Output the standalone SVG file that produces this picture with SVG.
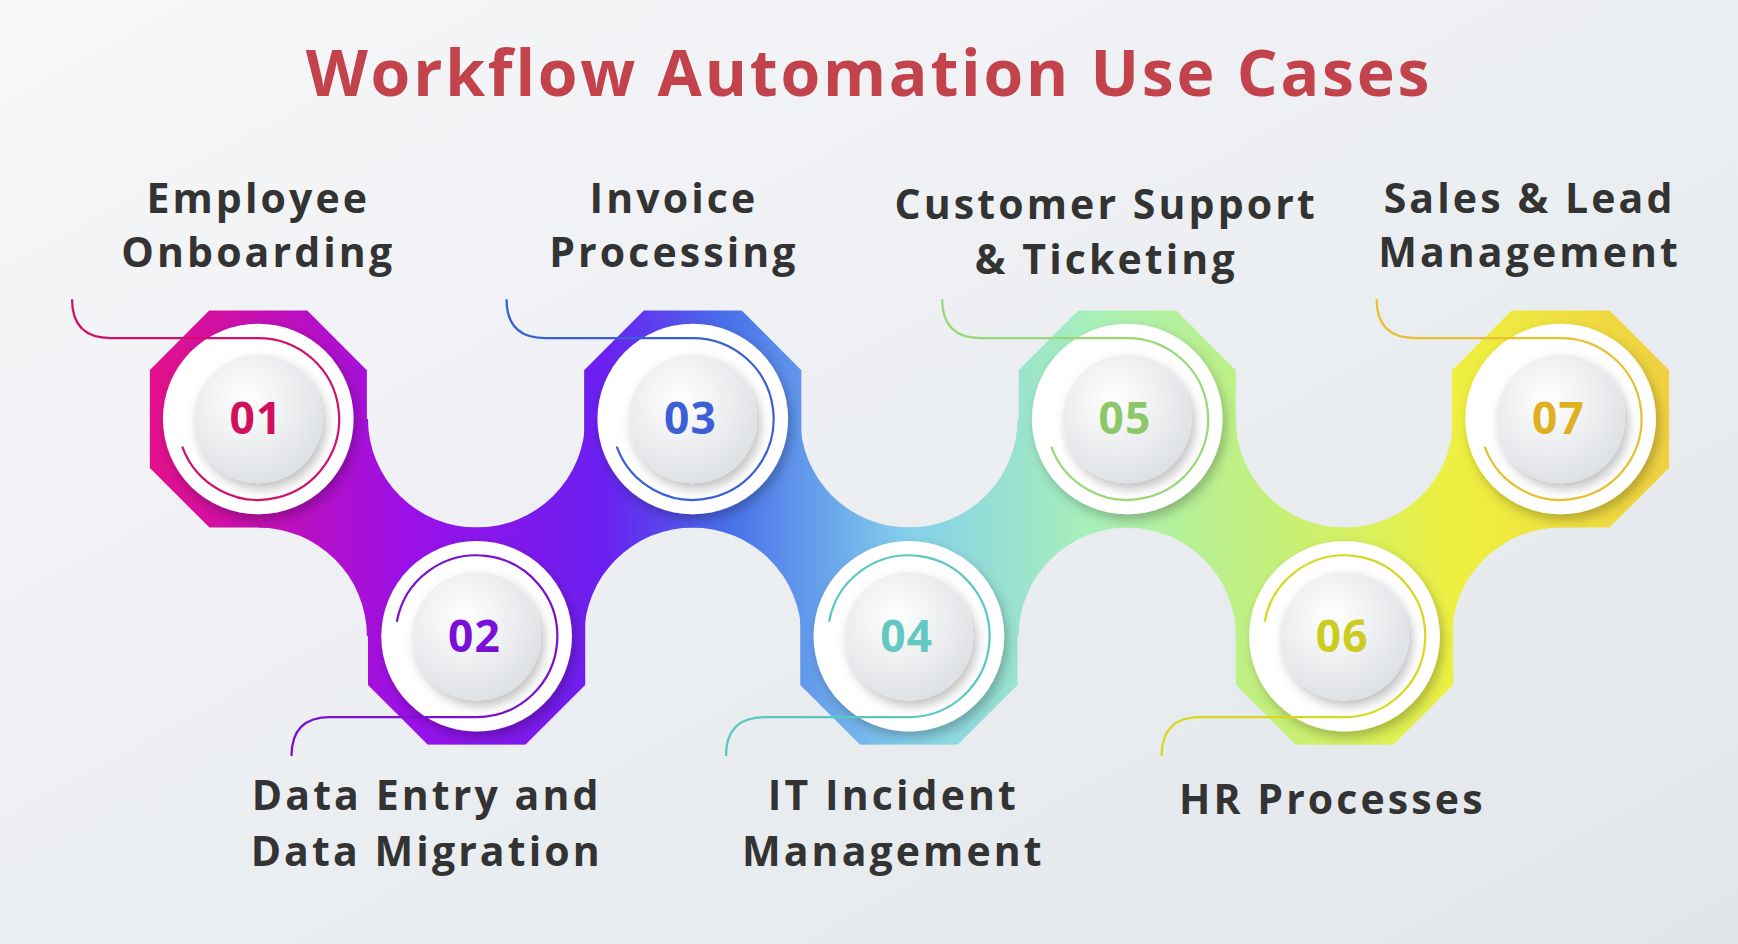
<svg xmlns="http://www.w3.org/2000/svg" width="1738" height="944" viewBox="0 0 1738 944">
<defs>
<linearGradient id="bg" x1="0" y1="0" x2="1" y2="1"><stop offset="0" stop-color="#f6f7f9"/><stop offset="1" stop-color="#e2e6ea"/></linearGradient>
<linearGradient id="band" gradientUnits="userSpaceOnUse" x1="135" y1="0" x2="1506" y2="0">
<stop offset="0" stop-color="#e4108a"/><stop offset="0.17" stop-color="#9a10e8"/><stop offset="0.3" stop-color="#6a20f0"/><stop offset="0.38" stop-color="#4870ea"/><stop offset="0.5" stop-color="#86d0ec"/><stop offset="0.62" stop-color="#a8f0b8"/><stop offset="0.74" stop-color="#c4f07a"/><stop offset="0.86" stop-color="#eef040"/><stop offset="1" stop-color="#f0d040"/></linearGradient>
<radialGradient id="inner" cx="0.4" cy="0.35" r="0.7"><stop offset="0" stop-color="#ffffff"/><stop offset="1" stop-color="#dcdfe3"/></radialGradient>
<filter id="sh" x="-30%" y="-30%" width="160%" height="160%"><feDropShadow dx="3" dy="5" stdDeviation="5" flood-color="#000" flood-opacity="0.25"/></filter>
<polygon id="oct" points="-44,-98 44,-98 98,-44 98,44 44,98 -44,98 -98,44 -98,-44"/>
<mask id="m" maskUnits="userSpaceOnUse" x="0" y="0" width="1600" height="900">
<rect x="233" y="378" width="1175" height="196" fill="#fff"/>
<g fill="#000"><circle cx="233" cy="574" r="98"/><circle cx="430" cy="378" r="98"/><circle cx="625" cy="574" r="98"/><circle cx="820" cy="378" r="98"/><circle cx="1017" cy="574" r="98"/><circle cx="1213" cy="378" r="98"/><circle cx="1408" cy="574" r="98"/></g>
<g fill="#fff"><use href="#oct" x="233" y="378"/><use href="#oct" x="430" y="574"/><use href="#oct" x="625" y="378"/><use href="#oct" x="820" y="574"/><use href="#oct" x="1017" y="378"/><use href="#oct" x="1213" y="574"/><use href="#oct" x="1408" y="378"/></g>
</mask>
<g id="disc"><circle r="86" fill="#fff" filter="url(#sh)"/><circle r="58" fill="url(#inner)" filter="url(#sh)"/></g>
</defs>
<style>
.t{font-family:"Open Sans","Liberation Sans",sans-serif;font-weight:700;font-size:37px;letter-spacing:2.8px;fill:#333;text-anchor:middle}
.n{font-family:"Open Sans","Liberation Sans",sans-serif;font-weight:700;font-size:40px;letter-spacing:1px;text-anchor:middle}
.ln{fill:none;stroke-width:2}
</style>
<rect width="1738" height="944" fill="url(#bg)"/>
<g transform="scale(1.1084)">
<text x="784" y="87" style="font-family:'Open Sans','Liberation Sans',sans-serif;font-weight:700;font-size:58px;letter-spacing:2.5px;fill:#c2434b;text-anchor:middle">Workflow Automation Use Cases</text>
<rect x="135" y="280" width="1371" height="392" fill="url(#band)" mask="url(#m)"/>
<g id="n1"><use href="#disc" x="233" y="378"/><text class="n" x="231" y="392" fill="#d0105e">01</text><text class="t" x="233" y="192">Employee</text><text class="t" x="233" y="241">Onboarding</text></g>
<g id="n2"><use href="#disc" x="430" y="574"/><text class="n" x="428" y="588" fill="#7a10d8">02</text><text class="t" x="385" y="731">Data Entry and</text><text class="t" x="385" y="781">Data Migration</text></g>
<g id="n3"><use href="#disc" x="625" y="378"/><text class="n" x="623" y="392" fill="#3d5fd6">03</text><text class="t" x="608" y="192">Invoice</text><text class="t" x="608" y="241">Processing</text></g>
<g id="n4"><use href="#disc" x="820" y="574"/><text class="n" x="818" y="588" fill="#62c8c0">04</text><text class="t" x="806" y="731">IT Incident</text><text class="t" x="806" y="781">Management</text></g>
<g id="n5"><use href="#disc" x="1017" y="378"/><text class="n" x="1015" y="392" fill="#8cc868">05</text><text class="t" x="998" y="198">Customer Support</text><text class="t" x="998" y="247">&amp; Ticketing</text></g>
<g id="n6"><use href="#disc" x="1213" y="574"/><text class="n" x="1211" y="588" fill="#cccc20">06</text><text class="t" x="1202" y="734">HR Processes</text></g>
<g id="n7"><use href="#disc" x="1408" y="378"/><text class="n" x="1406" y="392" fill="#e0b020">07</text><text class="t" x="1380" y="192">Sales &amp; Lead</text><text class="t" x="1380" y="241">Management</text></g>
<g id="connectors">
<path class="ln" stroke="#d0106a" d="M65,270 Q65,305 100,305 L233,305 A73,73 0 1 1 164.4,403"/>
<path class="ln" stroke="#7a10d0" d="M263,682 Q263,647 298,647 L430,647 A73,73 0 1 0 358,561"/>
<path class="ln" stroke="#3b5fd6" d="M457,270 Q457,305 492,305 L625,305 A73,73 0 1 1 556.4,403"/>
<path class="ln" stroke="#5cc8c0" d="M655,682 Q655,647 690,647 L820,647 A73,73 0 1 0 748,561"/>
<path class="ln" stroke="#98d878" d="M850,270 Q850,305 885,305 L1017,305 A73,73 0 1 1 948.4,403"/>
<path class="ln" stroke="#d8d820" d="M1048,682 Q1048,647 1083,647 L1213,647 A73,73 0 1 0 1141,561"/>
<path class="ln" stroke="#e6c030" d="M1242,270 Q1242,305 1277,305 L1408,305 A73,73 0 1 1 1339.4,403"/>
</g>
</g>
</svg>
